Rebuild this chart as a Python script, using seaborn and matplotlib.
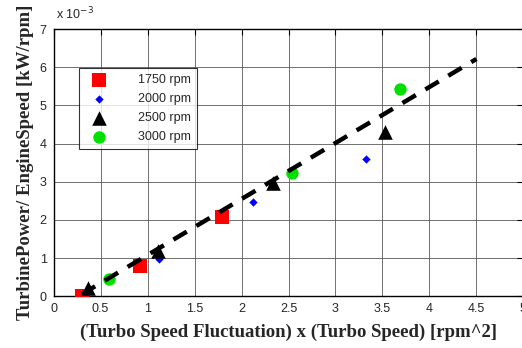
import numpy as np
import pandas as pd
import matplotlib
matplotlib.use("Agg")
import matplotlib.pyplot as plt
import seaborn as sns

# values (y in units of 1e-3 kW/rpm)
x_1750 = [0.30, 0.92, 1.79]
y_1750 = [0.00, 0.79, 2.08]
x_2000 = [1.12, 2.12, 3.32]
y_2000 = [0.98, 2.46, 3.60]
x_2500 = [0.37, 1.11, 2.33, 3.53]
y_2500 = [0.21, 1.19, 2.97, 4.31]
x_3000 = [0.59, 2.54, 3.69]
y_3000 = [0.45, 3.24, 5.43]
fit_x = [0.30, 4.50]
fit_y = [0.05, 6.22]

series = [
    ("1750 rpm", x_1750, y_1750, "s", "red", 90),
    ("2000 rpm", x_2000, y_2000, "D", "blue", 18),
    ("2500 rpm", x_2500, y_2500, "^", "black", 110),
    ("3000 rpm", x_3000, y_3000, "o", "#00e000", 80),
]

sns.set_style("white")
plt.rcParams["font.family"] = ["Liberation Sans", "DejaVu Sans"]

fig = plt.figure(figsize=(5.22, 3.48), dpi=100)
ax = fig.add_axes([0.1027, 0.149, 0.9, 0.767])

for name, xs, ys, mk, col, sz in series:
    df = pd.DataFrame({"x": xs, "y": ys})
    sns.scatterplot(data=df, x="x", y="y", marker=mk, color=col, s=sz,
                    linewidth=0, label=name, ax=ax, zorder=3)

fit = pd.DataFrame({"x": fit_x, "y": fit_y})
sns.lineplot(data=fit, x="x", y="y", color="black", lw=3.2, ax=ax,
             zorder=4, legend=False)
ax.lines[-1].set_linestyle((0, (3.5, 2.5)))

ax.set_xlim(0, 5)
ax.set_ylim(0, 7)
ax.set_xticks(np.arange(0, 5.01, 0.5))
ax.set_xticklabels(["0", "0.5", "1", "1.5", "2", "2.5", "3", "3.5", "4", "4.5", "5"])
ax.set_yticks(range(0, 8))
ax.grid(True, color="0.35", lw=0.6)
ax.tick_params(direction="in", length=4, labelsize=9, top=True, right=True,
               color="black", pad=5)
for sp in ax.spines.values():
    sp.set_color("black")
    sp.set_linewidth(1.0)

ax.set_xlabel("(Turbo Speed Fluctuation) x (Turbo Speed) [rpm^2]",
              family="Liberation Serif", fontweight="bold", fontsize=13.5, labelpad=6)
ax.set_ylabel("TurbinePower/ EngineSpeed [kW/rpm]",
              family="Liberation Serif", fontweight="bold", fontsize=13.5, labelpad=4)
fig.text(0.107, 0.945, r"x 10$^{-3}$", fontsize=9)

leg = ax.legend(loc="upper left", bbox_to_anchor=(0.055, 0.855), frameon=True,
                fancybox=False, edgecolor="black", fontsize=9,
                handletextpad=2.0, borderpad=0.5, labelspacing=0.55,
                handlelength=2.2, borderaxespad=0)
leg.get_frame().set_linewidth(0.8)

fig.savefig("out.png", dpi=100)
